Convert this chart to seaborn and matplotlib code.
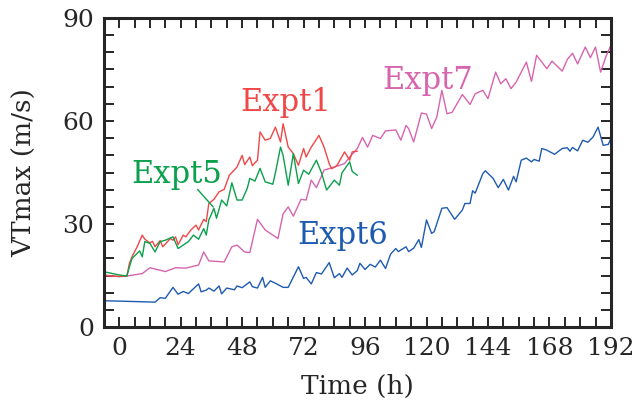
import numpy as np
import pandas as pd
import seaborn as sns
import matplotlib.pyplot as plt
from matplotlib.ticker import MultipleLocator

# Expt1 (red)
t1 = [-6, 0, 3, 4, 5, 7, 9, 10, 12, 13, 14, 16, 17, 20, 21, 22, 23, 25, 26, 28, 30, 31,
      33, 34, 35, 37, 39, 41, 43, 44, 46, 48, 49, 51, 52, 54, 55, 57, 59, 61, 63, 64,
      66, 68, 70, 72, 73, 75, 78, 80, 82, 83, 85, 88, 90, 91, 93]
v1 = [15.0, 14.8, 14.9, 18.6, 20.5, 23.4, 26.8, 25.6, 24.5, 25.0, 23.4, 25.2, 23.4, 25.8,
      25.3, 26.3, 24.0, 26.8, 26.3, 28.3, 29.7, 28.3, 31.4, 30.7, 36.0, 37.2, 39.4, 40.1,
      44.2, 45.0, 46.6, 50.0, 47.3, 49.5, 47.0, 48.6, 56.8, 54.4, 54.9, 58.2, 53.9, 59.2,
      52.4, 50.5, 47.1, 52.0, 49.5, 52.4, 55.8, 52.4, 47.6, 46.1, 47.0, 51.0, 48.6, 51.0, 51.2]

# Expt5 (green)
t5 = [-6, -5, 0, 3, 4, 5, 8, 9, 10, 12, 14, 16, 18, 21, 23, 25, 27, 29, 31, 33, 34, 35,
      37, 38, 40, 42, 44, 46, 48, 50, 51, 53, 55, 57, 60, 61, 63, 64, 66, 68, 70, 72,
      74, 77, 79, 81, 84, 86, 87, 90, 91, 93]
v5 = [15.4, 16.0, 15.2, 14.9, 17.6, 20.0, 22.2, 20.5, 24.9, 24.4, 21.9, 24.9, 25.3, 26.3,
      22.9, 23.9, 24.9, 26.8, 25.6, 28.7, 26.8, 31.2, 34.6, 31.7, 37.0, 35.3, 42.0, 37.0,
      37.0, 40.4, 43.3, 42.5, 46.2, 42.3, 41.6, 44.9, 52.4, 50.0, 41.3, 50.5, 41.8, 45.7,
      44.5, 48.6, 44.9, 39.9, 42.8, 41.3, 44.9, 48.1, 45.3, 44.2]

# Expt6 (blue)
t6 = [-6, 0, 14, 16, 18, 21, 23, 25, 27, 29, 31, 32, 34, 35, 37, 39, 40, 42, 45, 46, 48,
      51, 52, 54, 56, 57, 59, 61, 64, 66, 70, 72, 73, 75, 77, 79, 82, 84, 86, 87, 89, 91,
      93, 94, 96, 98, 100, 102, 104, 106, 108, 109, 112, 113, 115, 117, 118, 120, 122,
      123, 126, 128, 131, 134, 135, 137, 138, 139, 142, 143, 146, 148, 150, 152, 154, 155,
      157, 159, 161, 162, 164, 165, 167, 170, 173, 175, 176, 177, 179, 181, 183, 185, 187,
      189, 191, 192]
v6 = [7.7, 7.6, 7.3, 8.6, 8.4, 11.6, 9.6, 10.4, 9.8, 11.2, 12.6, 10.3, 10.8, 11.4, 10.5,
      12.0, 9.7, 11.4, 10.9, 12.0, 11.5, 13.2, 11.8, 11.4, 14.5, 11.6, 13.5, 12.8, 11.6,
      11.6, 17.6, 14.2, 14.5, 12.6, 15.9, 15.5, 18.8, 14.4, 15.6, 14.5, 17.2, 15.2, 16.5,
      18.6, 16.8, 18.3, 17.5, 19.5, 17.1, 21.3, 22.9, 22.0, 23.4, 22.0, 23.0, 25.5, 23.2,
      31.2, 27.3, 27.8, 34.6, 34.8, 31.4, 34.1, 36.0, 36.0, 39.7, 39.0, 44.7, 45.5, 43.3,
      40.6, 43.0, 39.9, 43.9, 42.3, 48.6, 49.2, 48.1, 48.8, 48.3, 52.0, 51.5, 50.3, 52.0,
      52.2, 51.2, 52.3, 51.3, 54.4, 53.8, 55.3, 58.2, 52.9, 53.2, 54.9]

# Expt7 (pink)
t7 = [-6, 0, 3, 9, 12, 18, 22, 26, 31, 33, 35, 41, 44, 46, 49, 51, 54, 57, 62, 64, 66,
      68, 71, 73, 75, 77, 80, 84, 88, 90, 93, 95, 97, 99, 102, 104, 108, 110, 112, 113,
      115, 118, 120, 122, 124, 126, 128, 130, 134, 137, 139, 142, 144, 147, 149, 151, 153,
      155, 159, 161, 163, 167, 169, 173, 175, 177, 179, 182, 184, 186, 188, 190, 192]
v7 = [15.2, 14.7, 14.9, 15.6, 17.3, 16.2, 17.3, 17.2, 18.1, 21.9, 19.3, 19.0, 23.4, 23.9,
      21.9, 21.7, 31.4, 28.3, 25.8, 33.0, 35.0, 32.3, 37.2, 37.0, 42.8, 40.6, 45.7, 46.6,
      47.6, 49.5, 52.0, 55.2, 52.4, 55.8, 54.9, 57.1, 57.4, 54.4, 58.7, 57.8, 53.9, 62.3,
      62.0, 57.8, 61.1, 68.9, 62.1, 62.5, 67.7, 64.8, 67.9, 68.9, 66.5, 74.2, 70.8, 72.3,
      69.4, 71.3, 77.1, 71.5, 79.1, 75.2, 77.4, 74.5, 77.9, 79.7, 76.6, 81.5, 78.4, 81.5,
      74.2, 78.6, 82.0]

series = [("Expt7", t7, v7, "#D665AE"),
          ("Expt6", t6, v6, "#1E5BB0"),
          ("Expt1", t1, v1, "#F04848"),
          ("Expt5", t5, v5, "#0AA04C")]

sns.set_style("ticks")
plt.rcParams['font.family'] = ['DejaVu Serif']

fig = plt.figure(figsize=(6.37, 4.05), dpi=100)
ax = fig.add_axes([0.163, 0.192, 0.796, 0.764])

for name, t, v, c in series:
    df = pd.DataFrame({"t": t, "v": v})
    sns.lineplot(data=df, x="t", y="v", color=c, linewidth=1.0, ax=ax, legend=False)

ax.set_xlim(-6, 192)
ax.set_ylim(0, 90)
ax.xaxis.set_major_locator(MultipleLocator(24))
ax.xaxis.set_minor_locator(MultipleLocator(6))
ax.yaxis.set_major_locator(MultipleLocator(30))
ax.yaxis.set_minor_locator(MultipleLocator(5))
ax.tick_params(which='both', direction='in', top=True, right=True,
               length=7, width=1.4, labelsize=18)
ax.tick_params(which='major', pad=7)
for s in ax.spines.values():
    s.set_linewidth(2.2)
    s.set_visible(True)

ax.set_xlabel("Time (h)", fontsize=19, labelpad=10)
ax.set_ylabel("VTmax (m/s)", fontsize=19, labelpad=18)

lab = dict(fontsize=22, ha='center', va='center')
ax.text(65, 65.4, "Expt1", color="#F04848", **lab)
ax.text(22.5, 44.5, "Expt5", color="#0AA04C", **lab)
ax.text(87.4, 26.8, "Expt6", color="#1E5BB0", **lab)
ax.text(120.5, 71.8, "Expt7", color="#D665AE", **lab)
ax.plot([30.6, 36.7], [40.1, 35.0], color="#0AA04C", linewidth=1.0)

fig.savefig("out.png", dpi=100)
